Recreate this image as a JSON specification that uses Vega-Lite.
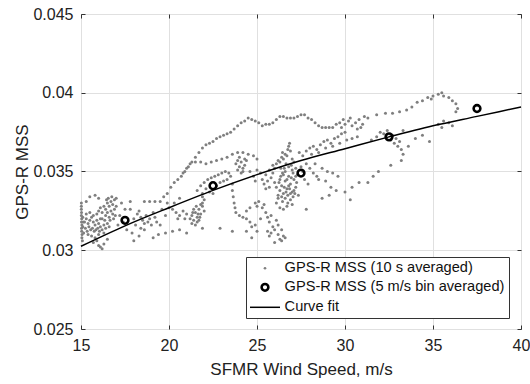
{
  "$schema": "https://vega.github.io/schema/vega-lite/v6.json",
  "width": 440,
  "height": 315,
  "autosize": {"type": "none"},
  "padding": {"left": 81, "top": 14, "right": 9, "bottom": 55},
  "config": {
    "font": "Liberation Sans",
    "view": {"stroke": "#333333", "strokeWidth": 1},
    "axis": {"labelFontSize": 16, "titleFontSize": 17, "titleFontWeight": "normal", "labelColor": "#222222", "titleColor": "#222222", "gridColor": "#e0e0e0", "tickColor": "#333333", "domain": false, "tickSize": -4, "labelPadding": 12, "labelFlush": false},
    "legend": {"orient": "none", "legendX": 165, "legendY": 243, "strokeColor": "#333333", "fillColor": "#ffffff", "padding": 4, "labelFontSize": 14.6, "labelColor": "#111111", "rowPadding": 3, "labelOffset": 20, "labelLimit": 400, "symbolSize": 900}
  },
  "datasets": {
    "pts": [
      {"w":15.02,"m":0.0328},{"w":15.02,"m":0.0326},{"w":15.03,"m":0.0324},{"w":15.02,"m":0.0322},{"w":15.04,"m":0.032},{"w":15.03,"m":0.0318},{"w":15.05,"m":0.0316},{"w":15.03,"m":0.0314},{"w":15.04,"m":0.0312},{"w":15.06,"m":0.031},{"w":15.05,"m":0.0308},{"w":15.08,"m":0.0306},{"w":15.1,"m":0.0315},{"w":15.1,"m":0.0321},{"w":15.12,"m":0.0318},{"w":15.02,"m":0.033},
      {"w":15.2,"m":0.0318},{"w":15.3,"m":0.032},{"w":15.4,"m":0.0317},{"w":15.5,"m":0.0319},{"w":15.6,"m":0.0321},{"w":15.7,"m":0.0318},{"w":15.8,"m":0.0316},{"w":15.9,"m":0.0319},{"w":16.0,"m":0.0317},{"w":16.1,"m":0.0315},{"w":15.25,"m":0.0314},{"w":15.35,"m":0.0312},{"w":15.45,"m":0.0315},{"w":15.55,"m":0.0313},{"w":15.65,"m":0.0314},{"w":15.75,"m":0.0312},{"w":15.85,"m":0.0313},{"w":15.95,"m":0.0314},{"w":16.05,"m":0.0312},{"w":16.2,"m":0.0313},{"w":15.3,"m":0.0323},{"w":15.5,"m":0.0324},{"w":15.7,"m":0.0322},{"w":15.9,"m":0.0323},{"w":16.1,"m":0.032},{"w":15.15,"m":0.0311},{"w":15.4,"m":0.031},{"w":15.6,"m":0.0309},{"w":15.8,"m":0.0308},{"w":16.0,"m":0.031},{"w":16.3,"m":0.0316},{"w":16.4,"m":0.0314},{"w":16.5,"m":0.0317},{"w":16.6,"m":0.0315},{"w":16.3,"m":0.0311},
      {"w":16.0,"m":0.0325},{"w":16.1,"m":0.0327},{"w":16.2,"m":0.0324},{"w":16.3,"m":0.0328},{"w":16.4,"m":0.0326},{"w":16.5,"m":0.033},{"w":16.6,"m":0.0328},{"w":16.7,"m":0.0331},{"w":16.8,"m":0.0329},{"w":16.9,"m":0.0332},{"w":16.4,"m":0.0322},{"w":16.5,"m":0.0324},{"w":16.6,"m":0.0321},{"w":16.7,"m":0.0325},{"w":16.8,"m":0.0323},{"w":16.9,"m":0.0326},{"w":17.0,"m":0.0328},{"w":16.55,"m":0.0333},{"w":16.75,"m":0.0334},{"w":16.85,"m":0.032},{"w":16.95,"m":0.0322},{"w":16.2,"m":0.032},{"w":16.35,"m":0.0319},{"w":16.65,"m":0.0319},{"w":17.0,"m":0.0333},{"w":16.45,"m":0.0332},
      {"w":15.5,"m":0.0334},{"w":15.8,"m":0.0335},{"w":16.0,"m":0.0333},{"w":15.3,"m":0.0331},{"w":17.3,"m":0.033},{"w":17.8,"m":0.0331},
      {"w":15.9,"m":0.0306},{"w":16.0,"m":0.0303},{"w":16.1,"m":0.0302},{"w":16.2,"m":0.0301},{"w":16.3,"m":0.0304},{"w":15.7,"m":0.0305},{"w":16.5,"m":0.0307},
      {"w":17.2,"m":0.0322},{"w":17.4,"m":0.0318},{"w":17.6,"m":0.0313},{"w":17.8,"m":0.0326},{"w":18.0,"m":0.032},{"w":18.1,"m":0.0316},{"w":18.2,"m":0.0323},{"w":18.3,"m":0.0325},{"w":18.4,"m":0.0321},{"w":18.5,"m":0.0319},{"w":18.6,"m":0.0317},{"w":18.7,"m":0.0322},{"w":18.8,"m":0.0318},{"w":18.9,"m":0.032},{"w":19.0,"m":0.0316},{"w":19.1,"m":0.0324},{"w":19.2,"m":0.0321},{"w":19.3,"m":0.0318},{"w":18.4,"m":0.0314},{"w":18.6,"m":0.0313},{"w":17.9,"m":0.0311},{"w":19.5,"m":0.0316},{"w":19.6,"m":0.0326},{"w":19.8,"m":0.0322},{"w":19.9,"m":0.033},{"w":20.0,"m":0.0327},{"w":19.4,"m":0.031},{"w":18.0,"m":0.0306},{"w":18.3,"m":0.0309},{"w":19.1,"m":0.0308},{"w":19.8,"m":0.0311},{"w":17.5,"m":0.0326},{"w":17.1,"m":0.0316},{"w":18.6,"m":0.0331},{"w":18.9,"m":0.0331},{"w":19.2,"m":0.0331},
      {"w":20.2,"m":0.0326},{"w":20.4,"m":0.0324},{"w":20.6,"m":0.0322},{"w":20.8,"m":0.0325},{"w":21.0,"m":0.0323},{"w":20.5,"m":0.032},{"w":20.9,"m":0.032},{"w":20.3,"m":0.033},{"w":20.6,"m":0.0333},
      {"w":21.2,"m":0.032},{"w":21.3,"m":0.0322},{"w":21.4,"m":0.0319},{"w":21.5,"m":0.0324},{"w":21.6,"m":0.0321},{"w":21.7,"m":0.0326},{"w":21.8,"m":0.0323},{"w":21.9,"m":0.0328},{"w":21.4,"m":0.0326},{"w":21.6,"m":0.0318},{"w":21.3,"m":0.0317},{"w":21.5,"m":0.0316},{"w":21.7,"m":0.0319},{"w":21.8,"m":0.0329},{"w":21.9,"m":0.033},{"w":22.0,"m":0.0325},{"w":21.55,"m":0.0328},{"w":21.35,"m":0.0324},{"w":21.65,"m":0.0323},{"w":21.75,"m":0.0321},{"w":22.0,"m":0.0332},{"w":21.9,"m":0.0334},
      {"w":20.2,"m":0.0312},{"w":21.0,"m":0.0311},{"w":21.9,"m":0.0314},{"w":22.9,"m":0.0314},{"w":23.6,"m":0.0312},{"w":24.4,"m":0.0312},{"w":20.6,"m":0.0313},
      {"w":21.6,"m":0.0338},{"w":21.8,"m":0.0341},{"w":22.0,"m":0.0343},{"w":22.2,"m":0.0345},{"w":22.4,"m":0.0346},{"w":22.6,"m":0.0347},{"w":22.8,"m":0.0348},{"w":23.0,"m":0.0349},{"w":23.2,"m":0.035},{"w":23.4,"m":0.0349},{"w":22.1,"m":0.0339},{"w":22.3,"m":0.0337},{"w":22.7,"m":0.0341},{"w":22.9,"m":0.0343},{"w":23.1,"m":0.0344},{"w":23.3,"m":0.0345},{"w":22.5,"m":0.0336},{"w":21.9,"m":0.0336},
      {"w":23.5,"m":0.0347},{"w":23.6,"m":0.0342},{"w":23.6,"m":0.0338},{"w":23.65,"m":0.0334},{"w":23.7,"m":0.033},{"w":23.75,"m":0.0327},{"w":23.8,"m":0.0324},{"w":24.0,"m":0.0322},{"w":24.2,"m":0.0321},{"w":24.4,"m":0.032},{"w":24.6,"m":0.0318},{"w":24.7,"m":0.0315},
      {"w":23.8,"m":0.0355},{"w":23.9,"m":0.0357},{"w":24.0,"m":0.0353},{"w":24.1,"m":0.0356},{"w":24.2,"m":0.0352},{"w":24.3,"m":0.0354},{"w":24.0,"m":0.0359},{"w":24.2,"m":0.035},{"w":24.4,"m":0.0357},{"w":23.9,"m":0.0351},{"w":24.1,"m":0.0349},{"w":24.3,"m":0.0358},
      {"w":19.5,"m":0.0331},{"w":19.7,"m":0.0334},{"w":19.9,"m":0.0336},{"w":20.1,"m":0.034},{"w":20.3,"m":0.0343},{"w":20.5,"m":0.0345},{"w":20.7,"m":0.0347},{"w":20.9,"m":0.035},{"w":21.1,"m":0.0353},{"w":21.3,"m":0.0356},{"w":21.5,"m":0.0359},{"w":21.7,"m":0.0362},{"w":21.9,"m":0.0365},{"w":22.1,"m":0.0367},{"w":22.3,"m":0.0368},{"w":22.5,"m":0.0369},{"w":22.7,"m":0.0371},{"w":22.9,"m":0.0372},{"w":23.1,"m":0.0373},{"w":23.3,"m":0.0374},{"w":23.5,"m":0.0375},{"w":23.7,"m":0.0377},{"w":23.9,"m":0.0379},{"w":24.1,"m":0.0381},{"w":24.3,"m":0.0382},{"w":24.5,"m":0.0384},{"w":24.7,"m":0.0383},{"w":24.9,"m":0.0382},{"w":25.1,"m":0.0381},{"w":25.3,"m":0.0379},{"w":25.5,"m":0.038},
      {"w":20.8,"m":0.0349},{"w":21.0,"m":0.0352},{"w":21.2,"m":0.0355},{"w":21.5,"m":0.0356},{"w":21.8,"m":0.0356},{"w":22.1,"m":0.0355},{"w":22.4,"m":0.0356},{"w":22.7,"m":0.0357},{"w":23.0,"m":0.0358},{"w":23.3,"m":0.0359},{"w":23.6,"m":0.0361},{"w":23.9,"m":0.0362},{"w":24.2,"m":0.0362},{"w":24.5,"m":0.0361},{"w":24.8,"m":0.036},{"w":25.0,"m":0.0358},
      {"w":25.7,"m":0.038},{"w":25.9,"m":0.0381},{"w":26.1,"m":0.0383},{"w":26.3,"m":0.0385},{"w":26.5,"m":0.0385},{"w":26.7,"m":0.0384},{"w":26.9,"m":0.0384},{"w":27.1,"m":0.0384},{"w":27.3,"m":0.0385},{"w":27.5,"m":0.0386},{"w":27.7,"m":0.0386},{"w":27.9,"m":0.0384},{"w":28.1,"m":0.0383},{"w":28.3,"m":0.0381},{"w":28.5,"m":0.0379},{"w":28.7,"m":0.0378},{"w":28.9,"m":0.0378},{"w":29.1,"m":0.0378},{"w":29.3,"m":0.0378},{"w":29.5,"m":0.038},{"w":29.7,"m":0.0381},
      {"w":26.2,"m":0.0335},{"w":26.3,"m":0.0338},{"w":26.4,"m":0.0341},{"w":26.5,"m":0.0336},{"w":26.6,"m":0.0344},{"w":26.7,"m":0.0339},{"w":26.8,"m":0.0347},{"w":26.9,"m":0.0342},{"w":27.0,"m":0.0337},{"w":27.1,"m":0.0345},{"w":27.2,"m":0.034},{"w":27.3,"m":0.0348},{"w":26.25,"m":0.0343},{"w":26.35,"m":0.0347},{"w":26.45,"m":0.0349},{"w":26.55,"m":0.034},{"w":26.65,"m":0.0337},{"w":26.75,"m":0.0335},{"w":26.85,"m":0.0339},{"w":26.95,"m":0.0346},{"w":27.05,"m":0.0349},{"w":27.15,"m":0.0336},{"w":27.25,"m":0.0343},{"w":26.3,"m":0.0345},{"w":26.4,"m":0.0334},{"w":26.5,"m":0.0348},{"w":26.6,"m":0.035},{"w":26.7,"m":0.0345},{"w":26.8,"m":0.0341},{"w":26.9,"m":0.0336},{"w":27.0,"m":0.0351},{"w":27.1,"m":0.0338},{"w":27.2,"m":0.0347},{"w":26.45,"m":0.0331},{"w":26.6,"m":0.0333},{"w":26.75,"m":0.033},{"w":26.9,"m":0.0332},{"w":27.05,"m":0.0334},{"w":26.55,"m":0.0352},{"w":26.8,"m":0.0353},{"w":26.65,"m":0.0355},{"w":26.95,"m":0.0354},{"w":27.2,"m":0.0352},{"w":27.35,"m":0.0335},{"w":26.35,"m":0.0352},
      {"w":26.0,"m":0.0352},{"w":26.1,"m":0.0355},{"w":26.2,"m":0.0357},{"w":26.3,"m":0.0356},{"w":26.4,"m":0.0359},{"w":26.5,"m":0.0358},{"w":26.6,"m":0.0361},{"w":26.7,"m":0.036},{"w":26.75,"m":0.0364},{"w":26.8,"m":0.0366},{"w":26.85,"m":0.0368},{"w":26.9,"m":0.0363},{"w":27.0,"m":0.0358},{"w":27.1,"m":0.0356},{"w":25.9,"m":0.0354},{"w":26.45,"m":0.0362},
      {"w":25.3,"m":0.0345},{"w":25.4,"m":0.0342},{"w":25.5,"m":0.0348},{"w":25.6,"m":0.0344},{"w":25.7,"m":0.034},{"w":25.8,"m":0.0346},{"w":25.9,"m":0.0349},{"w":26.0,"m":0.0343},{"w":26.1,"m":0.034},{"w":25.5,"m":0.0339},{"w":25.7,"m":0.0351},{"w":25.2,"m":0.0349},{"w":25.0,"m":0.0351},{"w":24.8,"m":0.0347},{"w":24.6,"m":0.035},{"w":24.9,"m":0.0344},
      {"w":26.1,"m":0.033},{"w":26.3,"m":0.0327},{"w":26.5,"m":0.0326},{"w":26.7,"m":0.0328},{"w":26.2,"m":0.0333},{"w":27.0,"m":0.0329},
      {"w":27.5,"m":0.0353},{"w":27.6,"m":0.035},{"w":27.8,"m":0.0355},{"w":28.0,"m":0.0352},{"w":28.2,"m":0.0349},{"w":28.4,"m":0.0347},{"w":28.5,"m":0.0345},{"w":27.7,"m":0.0345},{"w":27.9,"m":0.0342},
      {"w":24.9,"m":0.033},{"w":25.0,"m":0.0328},{"w":25.1,"m":0.0331},{"w":25.3,"m":0.0327},{"w":25.4,"m":0.0329},{"w":25.5,"m":0.0324},{"w":25.6,"m":0.0321},{"w":25.7,"m":0.0318},{"w":25.8,"m":0.0322},{"w":25.9,"m":0.0315},{"w":26.0,"m":0.0313},{"w":26.1,"m":0.0319},{"w":25.6,"m":0.0312},{"w":25.7,"m":0.0309},{"w":26.2,"m":0.031},{"w":26.3,"m":0.0307},{"w":26.4,"m":0.0306},{"w":26.5,"m":0.0309},{"w":26.6,"m":0.0308},{"w":26.0,"m":0.0305},{"w":25.8,"m":0.0311},{"w":26.2,"m":0.0316},{"w":26.4,"m":0.0313},{"w":25.2,"m":0.032},{"w":24.9,"m":0.0316},{"w":25.0,"m":0.0312},{"w":24.7,"m":0.0308},{"w":24.6,"m":0.0327},{"w":24.4,"m":0.0325},
      {"w":27.8,"m":0.0363},{"w":28.0,"m":0.0365},{"w":28.2,"m":0.0366},{"w":28.4,"m":0.0364},{"w":28.6,"m":0.0367},{"w":28.8,"m":0.0369},{"w":29.0,"m":0.037},{"w":29.2,"m":0.0368},{"w":29.4,"m":0.0371},{"w":29.6,"m":0.0372},{"w":29.8,"m":0.0374},{"w":30.0,"m":0.0375},{"w":28.1,"m":0.0361},{"w":28.5,"m":0.0362},{"w":28.9,"m":0.0365},{"w":29.3,"m":0.0366},{"w":29.7,"m":0.0368},{"w":30.1,"m":0.037},{"w":30.4,"m":0.0371},{"w":30.7,"m":0.0372},{"w":27.6,"m":0.036},{"w":27.4,"m":0.0362},
      {"w":29.8,"m":0.0378},{"w":30.0,"m":0.038},{"w":30.2,"m":0.0382},{"w":30.4,"m":0.0379},{"w":30.6,"m":0.0381},{"w":30.8,"m":0.0383},{"w":31.0,"m":0.038},{"w":30.3,"m":0.0384},{"w":30.7,"m":0.0377},{"w":31.1,"m":0.0385},{"w":30.9,"m":0.0378},{"w":29.9,"m":0.0383},
      {"w":28.3,"m":0.0355},{"w":28.7,"m":0.0352},{"w":29.0,"m":0.035},{"w":29.3,"m":0.0349},{"w":29.6,"m":0.0347},{"w":28.9,"m":0.0344},{"w":29.2,"m":0.034},{"w":29.5,"m":0.0338},{"w":30.0,"m":0.0337},{"w":30.4,"m":0.034},{"w":30.8,"m":0.0343},{"w":31.3,"m":0.0343},{"w":31.6,"m":0.0347},{"w":31.9,"m":0.035},{"w":30.3,"m":0.0332},{"w":29.1,"m":0.0335},{"w":27.8,"m":0.0326},{"w":28.7,"m":0.0333},
      {"w":32.0,"m":0.0375},{"w":32.2,"m":0.0374},{"w":32.4,"m":0.0376},{"w":32.6,"m":0.037},{"w":32.8,"m":0.0368},{"w":33.0,"m":0.0366},{"w":33.2,"m":0.0364},{"w":33.3,"m":0.0361},{"w":32.7,"m":0.0373},{"w":32.9,"m":0.0371},{"w":33.1,"m":0.0369},{"w":31.8,"m":0.0372},{"w":31.5,"m":0.037},{"w":32.6,"m":0.0354},{"w":33.6,"m":0.0366},{"w":34.0,"m":0.0371},{"w":34.4,"m":0.0373},{"w":34.8,"m":0.0369},{"w":33.3,"m":0.0376},{"w":33.2,"m":0.0357},
      {"w":31.3,"m":0.0384},{"w":31.8,"m":0.0386},{"w":32.3,"m":0.0387},{"w":32.7,"m":0.0387},{"w":33.1,"m":0.0388},{"w":33.5,"m":0.0389},{"w":33.8,"m":0.0391},{"w":34.1,"m":0.0394},{"w":34.4,"m":0.0395},{"w":34.7,"m":0.0397},{"w":35.0,"m":0.0398},{"w":35.3,"m":0.0399},{"w":35.6,"m":0.0398},{"w":35.9,"m":0.0397},{"w":36.1,"m":0.0395},{"w":36.3,"m":0.0393},{"w":36.4,"m":0.039},{"w":36.3,"m":0.0388},{"w":34.9,"m":0.0396},{"w":35.5,"m":0.04},
      {"w":35.3,"m":0.038},{"w":35.6,"m":0.0382},{"w":35.9,"m":0.0381},{"w":36.1,"m":0.0379},{"w":35.5,"m":0.0378}
    ],
    "bins": [
      {"w":17.5,"m":0.0319},{"w":22.5,"m":0.0341},{"w":27.5,"m":0.0349},{"w":32.5,"m":0.0372},{"w":37.5,"m":0.039}
    ],
    "fit": [
      {"w":15,"m":0.03025},{"w":17.5,"m":0.03155},{"w":20,"m":0.0327},{"w":22.5,"m":0.0338},{"w":25,"m":0.0348},{"w":27.5,"m":0.0357},{"w":30,"m":0.03645},{"w":32.5,"m":0.0372},{"w":35,"m":0.0379},{"w":37.5,"m":0.0385},{"w":40,"m":0.0391}
    ]
  },
  "resolve": {"axis": {"x": "independent", "y": "independent"}},
  "layer": [
    {
      "data": {"name": "pts"},
      "mark": {"type": "point", "opacity": 1, "size": 9, "strokeWidth": 0},
      "encoding": {
        "x": {"field": "w", "type": "quantitative", "scale": {"domain": [15, 40], "nice": false, "zero": false},
              "axis": {"orient": "bottom", "values": [15, 20, 25, 30, 35, 40], "grid": true, "title": "SFMR Wind Speed, m/s", "titlePadding": 8}},
        "y": {"field": "m", "type": "quantitative", "scale": {"domain": [0.025, 0.045], "nice": false, "zero": false},
              "axis": {"orient": "left", "values": [0.025, 0.03, 0.035, 0.04, 0.045], "format": ".3~f", "grid": true, "title": "GPS-R MSS", "titlePadding": 1}},
        "fill": {"datum": "GPS-R MSS (10 s averaged)", "type": "nominal",
                 "scale": {"domain": ["GPS-R MSS (10 s averaged)", "GPS-R MSS (5 m/s bin averaged)", "Curve fit"], "range": ["#7f7f7f", "transparent", "transparent"]},
                 "legend": {"title": null, "encode": {"symbols": {"update": {"x": {"value": 15}, "size": {"signal": "datum.label == 'Curve fit' ? 900 : (datum.label == 'GPS-R MSS (10 s averaged)' ? 7 : 45)"}, "strokeWidth": {"signal": "datum.label == 'Curve fit' ? 1.5 : (datum.label == 'GPS-R MSS (10 s averaged)' ? 0 : 2.6)"}}}}}},
        "stroke": {"datum": "GPS-R MSS (10 s averaged)", "type": "nominal",
                 "scale": {"domain": ["GPS-R MSS (10 s averaged)", "GPS-R MSS (5 m/s bin averaged)", "Curve fit"], "range": ["#7f7f7f", "#000000", "#000000"]},
                 "legend": {"title": null, "encode": {"symbols": {"update": {"x": {"value": 15}, "size": {"signal": "datum.label == 'Curve fit' ? 900 : (datum.label == 'GPS-R MSS (10 s averaged)' ? 7 : 45)"}, "strokeWidth": {"signal": "datum.label == 'Curve fit' ? 1.5 : (datum.label == 'GPS-R MSS (10 s averaged)' ? 0 : 2.6)"}}}}}},
        "shape": {"datum": "GPS-R MSS (10 s averaged)", "type": "nominal",
                 "scale": {"domain": ["GPS-R MSS (10 s averaged)", "GPS-R MSS (5 m/s bin averaged)", "Curve fit"], "range": ["circle", "circle", "M-1,0H1"]},
                 "legend": {"title": null, "encode": {"symbols": {"update": {"x": {"value": 15}, "size": {"signal": "datum.label == 'Curve fit' ? 900 : (datum.label == 'GPS-R MSS (10 s averaged)' ? 7 : 45)"}, "strokeWidth": {"signal": "datum.label == 'Curve fit' ? 1.5 : (datum.label == 'GPS-R MSS (10 s averaged)' ? 0 : 2.6)"}}}}}}
      }
    },
    {
      "data": {"name": "fit"},
      "mark": {"type": "line", "interpolate": "monotone", "strokeWidth": 1.5},
      "encoding": {
        "x": {"field": "w", "type": "quantitative", "scale": {"domain": [15, 40], "nice": false, "zero": false},
              "axis": {"orient": "top", "values": [15, 20, 25, 30, 35, 40], "grid": false, "labels": false, "title": null}},
        "y": {"field": "m", "type": "quantitative", "scale": {"domain": [0.025, 0.045], "nice": false, "zero": false},
              "axis": {"orient": "right", "values": [0.025, 0.03, 0.035, 0.04, 0.045], "grid": false, "labels": false, "title": null}},
        "stroke": {"datum": "Curve fit", "type": "nominal",
                 "scale": {"domain": ["GPS-R MSS (10 s averaged)", "GPS-R MSS (5 m/s bin averaged)", "Curve fit"], "range": ["#7f7f7f", "#000000", "#000000"]},
                 "legend": {"title": null, "encode": {"symbols": {"update": {"x": {"value": 15}, "size": {"signal": "datum.label == 'Curve fit' ? 900 : (datum.label == 'GPS-R MSS (10 s averaged)' ? 7 : 45)"}, "strokeWidth": {"signal": "datum.label == 'Curve fit' ? 1.5 : (datum.label == 'GPS-R MSS (10 s averaged)' ? 0 : 2.6)"}}}}}}
      }
    },
    {
      "data": {"name": "bins"},
      "mark": {"type": "point", "opacity": 1, "size": 45, "strokeWidth": 2.6},
      "encoding": {
        "x": {"field": "w", "type": "quantitative", "scale": {"domain": [15, 40], "nice": false, "zero": false}, "axis": null},
        "y": {"field": "m", "type": "quantitative", "scale": {"domain": [0.025, 0.045], "nice": false, "zero": false}, "axis": null},
        "fill": {"datum": "GPS-R MSS (5 m/s bin averaged)", "type": "nominal",
                 "scale": {"domain": ["GPS-R MSS (10 s averaged)", "GPS-R MSS (5 m/s bin averaged)", "Curve fit"], "range": ["#7f7f7f", "transparent", "transparent"]},
                 "legend": {"title": null, "encode": {"symbols": {"update": {"x": {"value": 15}, "size": {"signal": "datum.label == 'Curve fit' ? 900 : (datum.label == 'GPS-R MSS (10 s averaged)' ? 7 : 45)"}, "strokeWidth": {"signal": "datum.label == 'Curve fit' ? 1.5 : (datum.label == 'GPS-R MSS (10 s averaged)' ? 0 : 2.6)"}}}}}},
        "stroke": {"datum": "GPS-R MSS (5 m/s bin averaged)", "type": "nominal",
                 "scale": {"domain": ["GPS-R MSS (10 s averaged)", "GPS-R MSS (5 m/s bin averaged)", "Curve fit"], "range": ["#7f7f7f", "#000000", "#000000"]},
                 "legend": {"title": null, "encode": {"symbols": {"update": {"x": {"value": 15}, "size": {"signal": "datum.label == 'Curve fit' ? 900 : (datum.label == 'GPS-R MSS (10 s averaged)' ? 7 : 45)"}, "strokeWidth": {"signal": "datum.label == 'Curve fit' ? 1.5 : (datum.label == 'GPS-R MSS (10 s averaged)' ? 0 : 2.6)"}}}}}},
        "shape": {"datum": "GPS-R MSS (5 m/s bin averaged)", "type": "nominal",
                 "scale": {"domain": ["GPS-R MSS (10 s averaged)", "GPS-R MSS (5 m/s bin averaged)", "Curve fit"], "range": ["circle", "circle", "M-1,0H1"]},
                 "legend": {"title": null, "encode": {"symbols": {"update": {"x": {"value": 15}, "size": {"signal": "datum.label == 'Curve fit' ? 900 : (datum.label == 'GPS-R MSS (10 s averaged)' ? 7 : 45)"}, "strokeWidth": {"signal": "datum.label == 'Curve fit' ? 1.5 : (datum.label == 'GPS-R MSS (10 s averaged)' ? 0 : 2.6)"}}}}}}
      }
    }
  ]
}
